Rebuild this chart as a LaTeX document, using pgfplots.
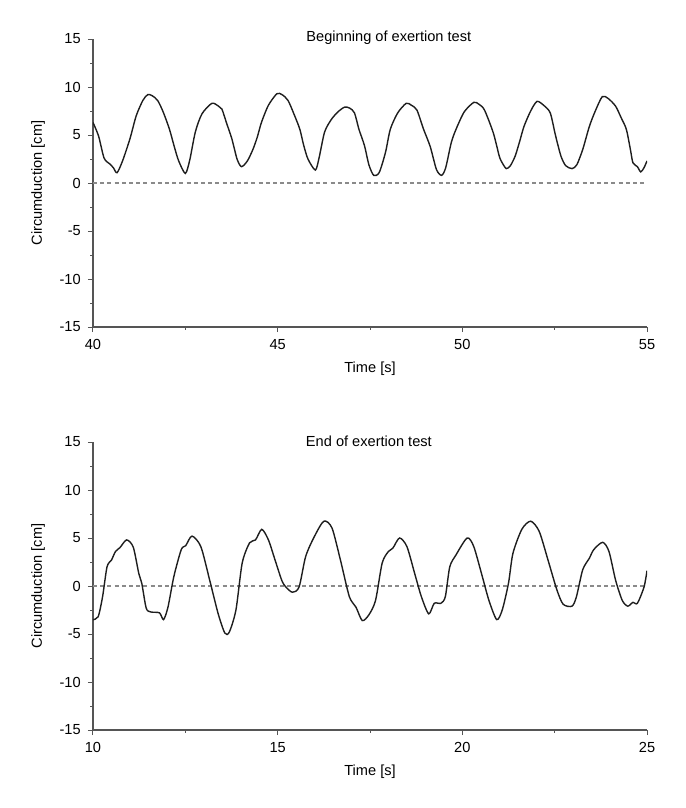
\documentclass[border=0pt]{standalone}
\usepackage{fontspec}
\setmainfont{Liberation Sans}
\usepackage{pgfplots}
\pgfplotsset{compat=1.18}

\definecolor{axisgray}{HTML}{555555}
\definecolor{curve}{HTML}{1E1E1E}
\definecolor{zeroline}{HTML}{8A8A8A}

\pgfplotsset{
  every axis title shift=0pt,
  trace/.style={
    scale only axis, width=277pt, height=144pt,
    axis lines*=left,
    axis line style={draw=axisgray, line width=0.6pt, -},
    tick align=outside,
    major tick length=2.6pt, minor tick length=1.4pt,
    every tick/.style={draw=axisgray, line width=0.5pt},
    minor x tick num=1, minor y tick num=1,
    ymin=-15, ymax=15, ytick={-15,-10,...,15},
    /pgf/number format/assume math mode=true,
    tick label style={font=\fontsize{7.3}{8.5}\selectfont},
    label style={font=\fontsize{7.3}{8.5}\selectfont},
    title style={font=\fontsize{7.3}{8.5}\selectfont, anchor=center},
    xlabel={Time [s]},
    ylabel={Circumduction [cm]},
    xlabel style={at={(axis description cs:0.5,-0.146)}, anchor=center},
    ylabel style={at={(axis description cs:-0.099,0.5)}, anchor=center},
  },
  curveline/.style={curve, line width=0.7pt, smooth, tension=0.45},
  zerol/.style={zeroline, line width=0.65pt, dash pattern=on 2pt off 1.6pt},
}

\begin{document}
\begin{tikzpicture}
\path[use as bounding box] (0pt,0pt) rectangle (342.5pt,-404pt);

% top panel
\begin{axis}[trace,
  at={(46.5pt,-163.5pt)}, anchor=south west,
  xmin=40, xmax=55, xtick={40,45,50,55},
  title={Beginning of exertion test},
  title style={at={(axis description cs:0.534,1.003)}},
]
\addplot[zerol] coordinates {(40,0) (55,0)};
\addplot[curveline] coordinates {
(40.00,6.3) (40.15,4.9) (40.30,2.6) (40.45,2.0) (40.55,1.6) (40.65,1.07)
(40.80,2.3) (41.00,4.6) (41.17,7.0) (41.35,8.6) (41.48,9.2) (41.60,9.1)
(41.75,8.6) (41.90,7.4) (42.07,5.6) (42.20,3.8) (42.32,2.3) (42.50,1.0)
(42.62,2.4) (42.77,5.3) (42.95,7.2) (43.22,8.3) (43.40,8.0) (43.49,7.7)
(43.62,6.2) (43.76,4.6) (43.90,2.5) (44.02,1.7) (44.18,2.3) (44.33,3.5)
(44.45,4.8) (44.56,6.3) (44.75,8.1) (44.98,9.3) (45.12,9.2) (45.28,8.6)
(45.45,7.1) (45.60,5.6) (45.70,4.0) (45.82,2.5) (46.02,1.35) (46.12,2.6)
(46.27,5.3) (46.45,6.6) (46.63,7.4) (46.81,7.9) (46.95,7.8) (47.08,7.3)
(47.20,5.6) (47.35,3.9) (47.47,1.9) (47.60,0.8) (47.75,1.1) (47.92,3.2)
(48.05,5.6) (48.25,7.3) (48.48,8.3) (48.62,8.1) (48.77,7.6) (48.95,5.6)
(49.13,3.8) (49.30,1.4) (49.44,0.8) (49.55,1.6) (49.70,4.2) (49.83,5.6)
(50.05,7.4) (50.31,8.4) (50.45,8.2) (50.60,7.6) (50.84,5.2) (51.00,2.8)
(51.08,2.1) (51.19,1.5) (51.30,1.8) (51.43,2.8) (51.55,4.3) (51.67,5.9)
(51.85,7.5) (52.02,8.5) (52.20,8.1) (52.38,7.3) (52.52,5.0) (52.67,2.8)
(52.80,1.8) (52.97,1.5) (53.10,1.9) (53.26,3.5) (53.44,5.9) (53.60,7.5)
(53.79,9.0) (53.95,8.8) (54.15,8.0) (54.30,6.8) (54.44,5.6) (54.55,3.5)
(54.62,2.1) (54.74,1.7) (54.83,1.15) (54.92,1.6) (55.00,2.3)
};
\end{axis}

% bottom panel
\begin{axis}[trace,
  at={(46.5pt,-365pt)}, anchor=south west,
  xmin=10, xmax=25, xtick={10,15,20,25},
  title={End of exertion test},
  title style={at={(axis description cs:0.498,1.003)}},
]
\addplot[zerol] coordinates {(10,0) (25,0)};
\addplot[curveline] coordinates {
(10.00,-3.5) (10.14,-3.2) (10.26,-1.1) (10.38,2.0) (10.50,2.7) (10.61,3.6)
(10.73,4.0) (10.91,4.8) (11.09,4.05) (11.24,1.3) (11.32,0.3) (11.44,-2.3)
(11.56,-2.7) (11.80,-2.8) (11.91,-3.5) (12.03,-2.2) (12.19,1.0) (12.39,3.8)
(12.51,4.2) (12.68,5.2) (12.92,4.1) (13.16,0.6) (13.39,-2.9) (13.57,-4.9)
(13.69,-4.8) (13.87,-2.5) (14.04,2.4) (14.24,4.5) (14.40,4.8) (14.57,5.9)
(14.75,4.8) (14.93,2.7) (15.11,0.6) (15.22,-0.1) (15.40,-0.65) (15.58,-0.1)
(15.76,3.1) (16.00,5.2) (16.25,6.75) (16.47,6.05) (16.70,2.7) (16.94,-1.1)
(17.12,-2.2) (17.29,-3.6) (17.47,-3.0) (17.65,-1.5) (17.83,2.4) (18.00,3.6)
(18.12,3.95) (18.30,5.0) (18.50,4.1) (18.71,1.3) (18.89,-1.1) (19.09,-2.9)
(19.24,-1.8) (19.42,-1.8) (19.54,-1.1) (19.66,2.0) (19.83,3.25) (20.13,5.0)
(20.31,4.1) (20.54,1.0) (20.72,-1.5) (20.93,-3.5) (21.08,-2.5) (21.25,0.3)
(21.37,3.4) (21.61,5.9) (21.85,6.75) (22.08,5.7) (22.32,2.7) (22.56,-0.4)
(22.73,-1.9) (22.97,-2.1) (23.09,-1.1) (23.26,1.7) (23.44,2.9) (23.56,3.8)
(23.80,4.55) (23.97,3.6) (24.15,0.6) (24.33,-1.5) (24.48,-2.1) (24.62,-1.7)
(24.74,-1.8) (24.92,-0.1) (25.00,1.6)
};
\end{axis}
\end{tikzpicture}
\end{document}
